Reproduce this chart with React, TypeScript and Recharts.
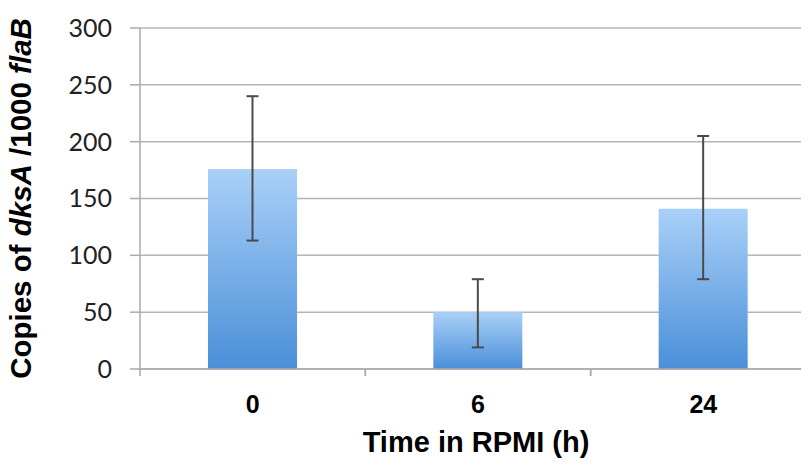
import React from "react";
import { BarChart, Bar, XAxis, YAxis, CartesianGrid, ErrorBar } from "recharts";

const categories = ["0", "6", "24"];
const means = [176, 50, 141];
const errLow = [63, 31, 62];
const errHigh = [64, 29, 64];
const yTicks = [0, 50, 100, 150, 200, 250, 300];

const data = categories.map((c, i) => ({
  time: c,
  copies: means[i],
  err: [errLow[i], errHigh[i]],
}));

const XTick = (props: any) => {
  const { x, y, payload } = props;
  const off = payload && payload.offset ? payload.offset : 112.7;
  return (
    <g>
      <line x1={x - off} y1={y} x2={x - off} y2={y + 7} stroke="#aaaaaa" strokeWidth={1.5} />
      <line x1={x + off} y1={y} x2={x + off} y2={y + 7} stroke="#aaaaaa" strokeWidth={1.5} />
      <text
        x={x}
        y={y + 44}
        textAnchor="middle"
        fontFamily="'Liberation Sans', Arial, sans-serif"
        fontWeight="bold"
        fontSize={25}
        fill="#000"
      >
        {payload.value}
      </text>
    </g>
  );
};

const YLabel = (props: any) => {
  const vb = props.viewBox || {};
  const cx = (vb.x || 0) + 23;
  const cy = (vb.y || 0) + (vb.height || 0) / 2;
  return (
    <text
      x={cx}
      y={cy}
      transform={`rotate(-90, ${cx}, ${cy})`}
      textAnchor="middle"
      fontFamily="'Liberation Sans', Arial, sans-serif"
      fontWeight="bold"
      fontSize={29.5}
      fill="#000"
    >
      <tspan>Copies of </tspan>
      <tspan fontStyle="italic">dksA</tspan>
      <tspan> /1000 </tspan>
      <tspan fontStyle="italic">flaB</tspan>
    </text>
  );
};

const XLabel = (props: any) => {
  const vb = props.viewBox || {};
  const cx = (vb.x || 0) + (vb.width || 0) / 2 - 2;
  const cy = (vb.y || 0) + 83;
  return (
    <text
      x={cx}
      y={cy}
      textAnchor="middle"
      fontFamily="'Liberation Sans', Arial, sans-serif"
      fontWeight="bold"
      fontSize={29}
      fill="#000"
    >
      Time in RPMI (h)
    </text>
  );
};

export default function App() {
  return (
    <div style={{ width: 809, height: 458, overflow: "hidden", background: "#fff", marginLeft: -8 }}>
      <BarChart
        width={816}
        height={458}
        data={data}
        margin={{ top: 20, right: 0, bottom: 0, left: 8 }}
      >
        <defs>
          <linearGradient id="barGrad" x1="0" y1="0" x2="0" y2="1">
            <stop offset="0%" stopColor="#a9d0f8" />
            <stop offset="100%" stopColor="#4a8fd8" />
          </linearGradient>
        </defs>
        <CartesianGrid vertical={false} stroke="#b5b5b5" strokeWidth={1.5} />
        <XAxis
          dataKey="time"
          height={97}
          axisLine={{ stroke: "#aaaaaa", strokeWidth: 1.5 }}
          tickLine={false}
          tickSize={0}
          tickMargin={0}
          tick={<XTick />}
          interval={0}
          label={<XLabel />}
        />
        <YAxis
          width={132}
          domain={[0, 300]}
          ticks={yTicks}
          interval={0}
          axisLine={{ stroke: "#aaaaaa", strokeWidth: 1.5 }}
          tickLine={{ stroke: "#aaaaaa", strokeWidth: 1.5 }}
          tickSize={10}
          tickMargin={18}
          tick={{ fontFamily: "Lato, 'Open Sans', sans-serif", fontSize: 25, fill: "#222" }}
          label={<YLabel />}
        />
        <Bar dataKey="copies" fill="url(#barGrad)" barSize={89} isAnimationActive={false}>
          <ErrorBar dataKey="err" width={6} stroke="#4a4a4a" strokeWidth={2} direction="y" />
        </Bar>
      </BarChart>
    </div>
  );
}
